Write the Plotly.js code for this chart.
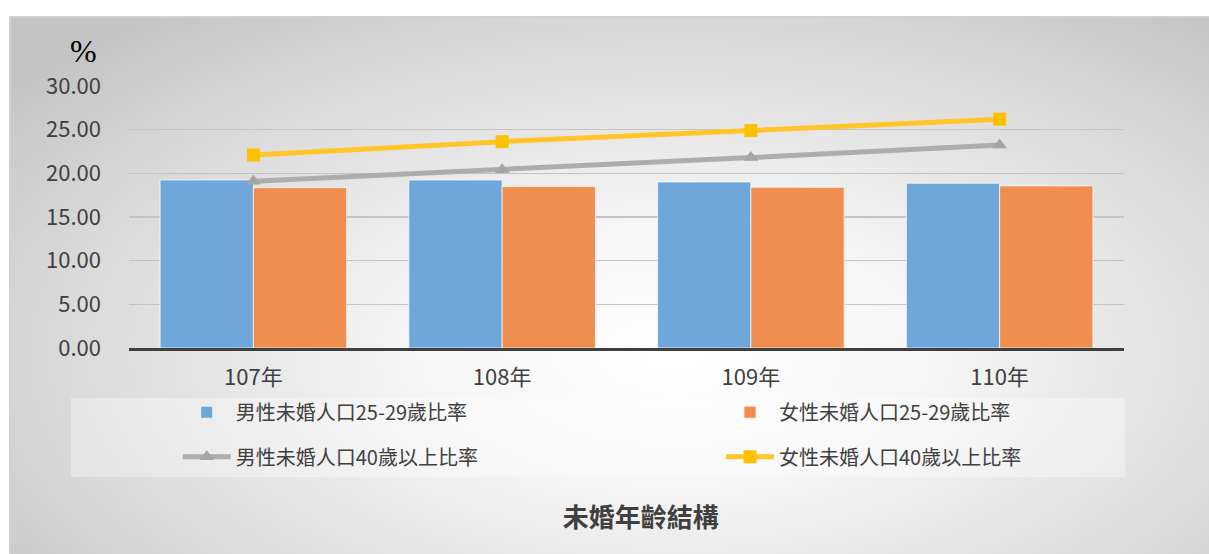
<!DOCTYPE html>
<html>
<head>
<meta charset="utf-8">
<script src="https://cdn.plot.ly/plotly-3.0.1.min.js"></script>
<style>
  html, body { margin: 0; padding: 0; background: #ffffff; }
  #bg {
    position: absolute; left: 9px; top: 16px; width: 1210px; height: 545px;
    box-sizing: border-box; border-top: 2px solid #d0d0d0; border-left: 2px solid #d0d0d0;
    background: radial-gradient(ellipse 70% 80% at 55% 62%, #ffffff 0%, #f6f6f6 30%, #d8d8d8 75%, #c4c4c4 100%);
  }
  #chart { position: absolute; left: 0; top: 0; width: 1209px; height: 554px; }
</style>
</head>
<body>
<div id="bg"></div>
<div id="chart"></div>
<script>
const categories = ['107年', '108年', '109年', '110年'];
const male2529 = [19.24, 19.24, 19.01, 18.86];
const female2529 = [18.36, 18.48, 18.40, 18.56];
const male40 = [19.10, 20.40, 21.80, 23.25];
const female40 = [22.10, 23.63, 24.90, 26.20];
const seriesNames = ['男性未婚人口25-29歲比率', '女性未婚人口25-29歲比率', '男性未婚人口40歲以上比率', '女性未婚人口40歲以上比率'];
const yTicks = [0, 5, 10, 15, 20, 25, 30];

const font = 'Noto Sans CJK TC, Noto Sans, sans-serif';
const data = [
  { type: 'bar', x: categories, y: male2529, name: seriesNames[0], legend: 'legend',
    marker: { color: '#70a7da', line: { color: 'rgba(255,255,255,0.7)', width: 1 } } },
  { type: 'bar', x: categories, y: female2529, name: seriesNames[1], legend: 'legend2',
    marker: { color: '#ef8e4e', line: { color: 'rgba(255,255,255,0.7)', width: 1 } } },
  { type: 'scatter', mode: 'lines+markers', x: categories, y: male40, name: seriesNames[2], legend: 'legend3',
    line: { color: '#adadad', width: 5 }, marker: { symbol: 'triangle-up', size: 13, color: '#a5a5a5' } },
  { type: 'scatter', mode: 'lines+markers', x: categories, y: female40, name: seriesNames[3], legend: 'legend4',
    line: { color: '#ffc52a', width: 5 }, marker: { symbol: 'square', size: 13, color: '#ffc000' } }
];

const legendCommon = {
  orientation: 'h', xanchor: 'left', yanchor: 'middle',
  bgcolor: 'rgba(0,0,0,0)', font: { family: font, size: 20, color: '#404040' }, itemwidth: 48
};
const col1 = 0.049, col2 = 0.595, row1 = -0.245, row2 = -0.415;

const layout = {
  width: 1209, height: 554,
  margin: { l: 129, r: 85, t: 86, b: 206 },
  paper_bgcolor: 'rgba(0,0,0,0)', plot_bgcolor: 'rgba(0,0,0,0)',
  barmode: 'group', bargap: 0.25, bargroupgap: 0,
  showlegend: true,
  legend: Object.assign({}, legendCommon, { x: col1, y: row1 }),
  legend2: Object.assign({}, legendCommon, { x: col2, y: row1 }),
  legend3: Object.assign({}, legendCommon, { x: col1, y: row2 }),
  legend4: Object.assign({}, legendCommon, { x: col2, y: row2 }),
  title: { text: '未婚年齡結構', x: 0.530, xanchor: 'center', y: 0.065, yanchor: 'middle',
    font: { family: font, size: 26, color: '#404040', weight: 'bold' } },
  xaxis: {
    type: 'category', showline: true, linecolor: '#404040', linewidth: 3,
    showgrid: false, ticks: '', tickfont: { family: font, size: 22, color: '#404040' },
    ticklabelstandoff: 8
  },
  yaxis: {
    range: [0, 30], tickvals: yTicks, tickformat: '.2f', showgrid: true,
    gridcolor: '#c4c4c4', gridwidth: 1.5, zeroline: false, showline: false,
    tickfont: { family: font, size: 22, color: '#404040' }, ticklabelstandoff: 27
  },
  shapes: [
    { type: 'rect', xref: 'paper', yref: 'paper', x0: -0.0583, x1: 1.001, y0: -0.492, y1: -0.191,
      fillcolor: 'rgba(255,255,255,0.35)', line: { width: 0 }, layer: 'below' }
  ],
  annotations: [
    { text: '%', xref: 'paper', yref: 'paper', x: -0.046, y: 1.062, xanchor: 'center', yanchor: 'bottom',
      showarrow: false, borderpad: 0,
      font: { family: 'Liberation Serif, serif', size: 32, color: '#000000' } }
  ]
};

Plotly.newPlot('chart', data, layout, { displayModeBar: false, staticPlot: true });
</script>
</body>
</html>
